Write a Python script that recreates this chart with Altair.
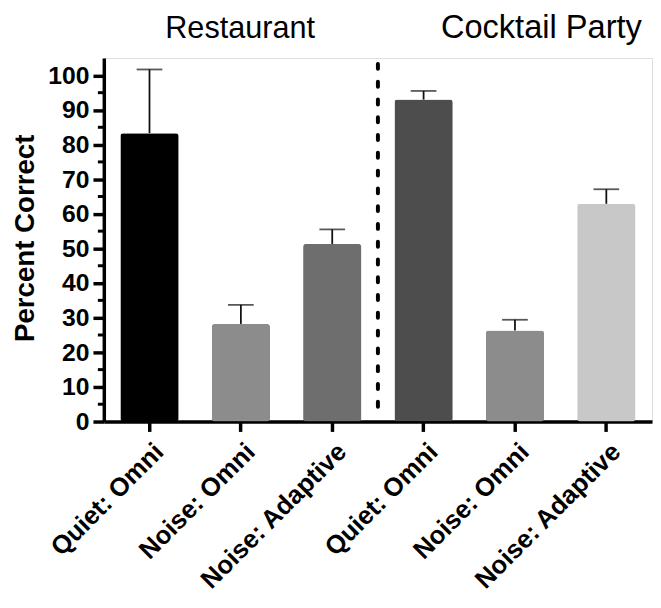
import altair as alt
import pandas as pd

# ---- data ----
scenes = ["Restaurant", "Restaurant", "Restaurant",
          "Cocktail Party", "Cocktail Party", "Cocktail Party"]
conditions = ["Quiet: Omni", "Noise: Omni", "Noise: Adaptive",
              "Quiet: Omni", "Noise: Omni", "Noise: Adaptive"]
means = [83.3, 28.2, 51.3, 93.0, 26.3, 62.9]
upper = [101.7, 33.7, 55.5, 95.5, 29.4, 67.1]
y_major = [0, 10, 20, 30, 40, 50, 60, 70, 80, 90, 100]
y_minor = [5, 15, 25, 35, 45, 55, 65, 75, 85, 95]
bar_colors = ["#000000", "#8c8c8c", "#6e6e6e", "#4d4d4d", "#8c8c8c", "#c8c8c8"]

keys = [f"{s}|{c}" for s, c in zip(scenes, conditions)]
df = pd.DataFrame({"key": keys, "scene": scenes, "cond": conditions,
                   "mean": means, "upper": upper})
minor_df = pd.DataFrame({"v": y_minor})

FONT = "Liberation Sans"
W, H = 555, 368

xscale = alt.Scale(domain=keys, paddingInner=0.362, paddingOuter=0.181)
yscale = alt.Scale(domain=[0, 105], nice=False)

x_axis = alt.Axis(title=None, labelExpr="split(datum.label, '|')[1]",
                  labelAngle=-45, labelFontSize=26, labelFontWeight="bold",
                  labelFont=FONT, labelColor="black", labelPadding=7,
                  labelOffset=1, labelLimit=0, labelOverlap=False,
                  tickSize=10, tickWidth=3.5, tickColor="black",
                  domainWidth=3.5, domainColor="black", grid=False)

y_axis = alt.Axis(values=y_major, title="Percent Correct",
                  titleFontSize=28, titleFontWeight="bold", titleFont=FONT,
                  titleColor="black", titleX=-71, titleY=H / 2 - 2,
                  titleBaseline="alphabetic",
                  labelFontSize=25, labelFontWeight="bold", labelFont=FONT,
                  labelColor="black", labelPadding=4, labelOverlap=False,
                  tickSize=11, tickWidth=3.5, tickColor="black",
                  domainWidth=3.5, domainColor="black", grid=False)

x_enc = alt.X("key:N", scale=xscale, sort=keys, axis=x_axis)

base = alt.Chart(df)

bars = base.mark_bar(cornerRadius=3).encode(
    x=x_enc,
    y=alt.Y("mean:Q", scale=yscale, axis=y_axis),
    color=alt.Color("key:N", scale=alt.Scale(domain=keys, range=bar_colors), legend=None),
)

err_line = base.mark_rule(color="#111111", strokeWidth=1.8).encode(
    x=x_enc, y=alt.Y("mean:Q", scale=yscale, axis=y_axis), y2="upper:Q")

err_cap = base.mark_tick(color="#111111", thickness=1.8, size=26).encode(
    x=x_enc, y=alt.Y("upper:Q", scale=yscale, axis=y_axis))

minor = alt.Chart(minor_df).mark_rule(color="black", strokeWidth=3).encode(
    y=alt.Y("v:Q", scale=yscale, axis=y_axis), x=alt.value(-6), x2=alt.value(0))

sep = alt.Chart(pd.DataFrame({"a": [0]})).mark_rule(
    color="black", strokeWidth=4, strokeDash=[5, 13], strokeCap="round").encode(
    x=alt.value(277.5), y=alt.datum(103.3, scale=yscale, axis=y_axis), y2=alt.datum(1.6))

t1 = alt.Chart(pd.DataFrame({"t": ["Restaurant"]})).mark_text(
    font=FONT, fontSize=31, color="black", align="center", baseline="alphabetic").encode(
    text="t:N", x=alt.value(138), y=alt.value(-20))
t2 = alt.Chart(pd.DataFrame({"t": ["Cocktail Party"]})).mark_text(
    font=FONT, fontSize=33, color="black", align="center", baseline="alphabetic").encode(
    text="t:N", x=alt.value(443), y=alt.value(-20))

chart = alt.layer(bars, err_line, err_cap, minor, sep, t1, t2).properties(
    width=W, height=H,
    autosize=alt.AutoSizeParams(type="none"),
    padding={"left": 97, "top": 47, "right": 1, "bottom": 177},
).configure_view(stroke=None, strokeWidth=0).configure(font=FONT)

chart.save("out.html", embed_options={"renderer": "svg", "actions": False})
